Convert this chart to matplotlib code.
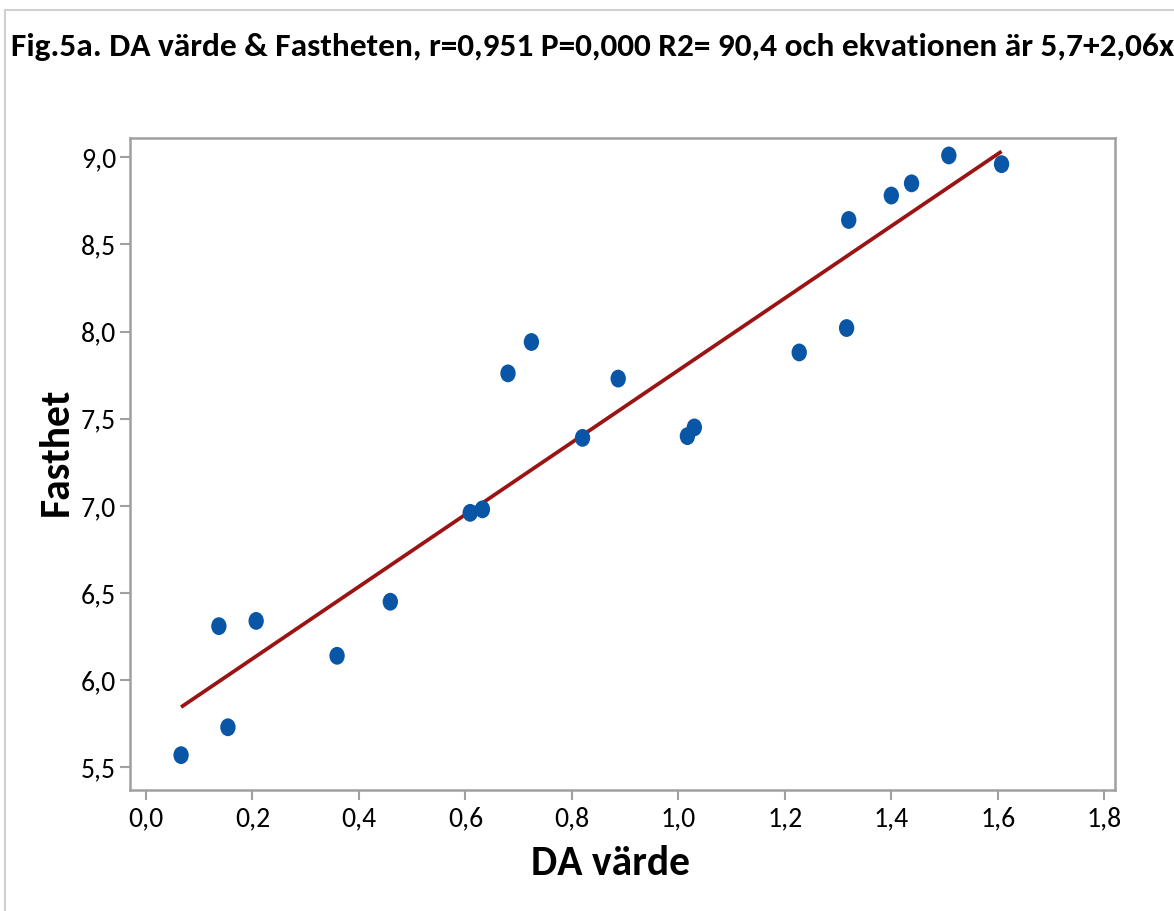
import numpy as np
import matplotlib
matplotlib.use("Agg")
import matplotlib.pyplot as plt
from matplotlib.patches import Rectangle
from matplotlib.path import Path
from matplotlib.ticker import FuncFormatter

# data
da_varde = [0.066, 0.137, 0.154, 0.207, 0.359, 0.459, 0.609, 0.632, 0.680, 0.724,
            0.820, 0.887, 1.017, 1.030, 1.227, 1.316, 1.320, 1.400, 1.438, 1.508, 1.607]
fasthet = [5.57, 6.31, 5.73, 6.34, 6.14, 6.45, 6.96, 6.98, 7.76, 7.94,
           7.39, 7.73, 7.40, 7.45, 7.88, 8.02, 8.64, 8.78, 8.85, 9.01, 8.96]

title = "Fig.5a. DA värde & Fastheten, r=0,951 P=0,000 R2= 90,4 och ekvationen är 5,7+2,06x"
xticks = [0.0, 0.2, 0.4, 0.6, 0.8, 1.0, 1.2, 1.4, 1.6, 1.8]
yticks = [5.5, 6.0, 6.5, 7.0, 7.5, 8.0, 8.5, 9.0]

plt.rcParams["font.family"] = ["Carlito", "DejaVu Sans"]

fig = plt.figure(figsize=(11.74, 9.11), dpi=100)
fig.patches.append(Rectangle((0.004, -0.01), 1.1, 0.999, transform=fig.transFigure,
                             fill=False, edgecolor="#d0d0d0", linewidth=1.5))
ax = fig.add_axes([0.1107, 0.1328, 0.839, 0.7157])

# slightly tall ellipse marker, like the original dots
circ = Path.unit_circle()
oval = Path(circ.vertices * np.array([0.86, 1.0]), circ.codes)

x = np.array(da_varde)
y = np.array(fasthet)
slope, intercept = np.polyfit(x, y, 1)
xl = np.array([x.min(), x.max()])
ax.plot(xl, intercept + slope * xl, color="#9b1414", linewidth=2.7,
        solid_capstyle="butt", zorder=2)
ax.scatter(x, y, s=165, marker=oval, color="#0a56a6", edgecolors="none", zorder=3)

ax.set_xlim(-0.03, 1.82)
ax.set_ylim(5.37, 9.11)
ax.set_xticks(xticks)
ax.set_yticks(yticks)
comma = FuncFormatter(lambda v, p: f"{v:.1f}".replace(".", ","))
ax.xaxis.set_major_formatter(comma)
ax.yaxis.set_major_formatter(comma)
ax.tick_params(labelsize=20, color="#a0a0a0", width=1.5, length=7, direction="out")
ax.tick_params(axis="x", pad=5)
ax.tick_params(axis="y", pad=3)

for s in ax.spines.values():
    s.set_color("#a0a0a0")
    s.set_linewidth(1.8)

ax.set_xlabel("DA värde", fontsize=30, fontweight="bold", labelpad=2)
ax.set_ylabel("Fasthet", fontsize=30, fontweight="bold", labelpad=5)
ax.xaxis.set_label_coords(0.488, -0.085)
ax.yaxis.set_label_coords(-0.056, 0.518)
fig.text(0.505, 0.948, title, ha="center", va="center", fontsize=24, fontweight="bold")

fig.savefig("out.png", dpi=100)
